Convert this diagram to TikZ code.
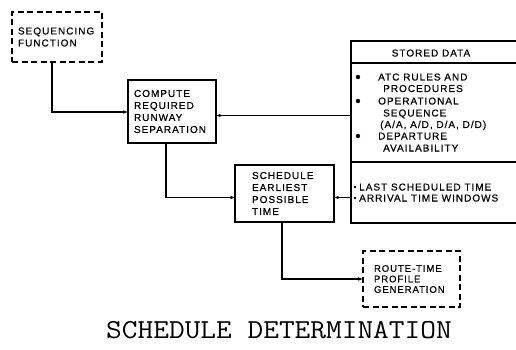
\documentclass[tikz,border=0pt]{standalone}
\usepackage{fontspec}
\setmainfont{Liberation Sans}[LetterSpace=10, FakeBold=0.6]
\usetikzlibrary{arrows.meta}
\begin{document}
\begin{tikzpicture}[x=1pt,y=-1pt,
  box/.style={draw, line width=1.1pt, rectangle, inner ysep=0pt, align=left,
    font=\fontsize{10}{12}\selectfont},
  dbox/.style={box, dash pattern=on 6pt off 3.5pt},
  arr/.style={line width=1.1pt, -{Stealth[length=4.5pt,width=3.5pt]}},
  ln/.style={line width=1.1pt},
  txt/.style={inner sep=0pt, anchor=west, text height=7pt, text depth=0pt,
    font=\fontsize{10}{12}\selectfont},
  bigdot/.style={ellipse, fill, inner sep=0pt, minimum width=5pt, minimum height=4pt, rotate=20},
  smalldot/.style={circle, fill, inner sep=0pt, minimum size=2.8pt}]
\useasboundingbox (0,0) rectangle (516,350);

% boxes
\node[dbox, minimum height=50pt, inner xsep=6pt, text width=78pt] (seq) at (57,37) {SEQUENCING\\FUNCTION};
\node[box, minimum height=63pt, inner xsep=6pt, text width=76pt] (compute) at (172,111.5) {COMPUTE\\REQUIRED\\RUNWAY\\SEPARATION};
\node[box, minimum height=57pt, inner xsep=17pt, text width=65pt] (sched) at (284.5,193.5) {SCHEDULE\\EARLIEST\\POSSIBLE\\TIME};
\node[dbox, minimum height=56pt, inner xsep=11pt, text width=75pt,
  font=\fontsize{9.5}{10.5}\selectfont] (route) at (411.5,279) {ROUTE-TIME\\PROFILE\\GENERATION};

% stored data
\node[draw, line width=1.1pt, minimum width=174pt, minimum height=182pt, inner sep=0pt] (stored) at (438,132) {};
\coordinate (h1) at (0,63);
\coordinate (h2) at (0,162);
\draw[ln] (stored.west |- h1) -- (stored.east |- h1);
\draw[ln] (stored.west |- h2) -- (stored.east |- h2);
\node[txt, anchor=center] (sdt) at (431,53) {STORED DATA};

\node[circle, fill, inner sep=0pt, minimum size=4.4pt] (b1) at (358,77) {};
\node[circle, fill, inner sep=0pt, minimum size=4.4pt] (b2) at (358,101) {};
\node[circle, fill, inner sep=0pt, minimum size=4.4pt] (b3) at (358,136) {};
\node[txt] (t1) at (378,77) {ATC RULES AND};
\node[txt] (t2) at (383,88.5) {PROCEDURES};
\node[txt] (t3) at (378,101) {OPERATIONAL};
\node[txt] (t4) at (383,113) {SEQUENCE};
\node[txt] (t5) at (380,124.5) {(A/A, A/D, D/A, D/D)};
\node[txt] (t6) at (378,136) {DEPARTURE};
\node[txt] (t7) at (383,148) {AVAILABILITY};

\node[smalldot] (b4) at (355,187) {};
\node[smalldot] (b5) at (355,198) {};
\node[txt] (t8) at (359,187) {LAST SCHEDULED TIME};
\node[txt] (t9) at (359,198) {ARRIVAL TIME WINDOWS};

% title
\node[inner sep=0pt, font=\ttfamily\fontsize{30.5}{32}\selectfont,
  yscale=0.9, transform shape] (title) at (279,330) {SCHEDULE DETERMINATION};

% connectors
\coordinate (y1) at (0,112);
\coordinate (y2) at (0,115.5);
\coordinate (y3) at (0,197.5);
\coordinate (x1) at (52,0);
\coordinate (x2) at (166,0);
\coordinate (x3) at (282,0);
\draw[arr] (seq.south -| x1) |- (compute.west |- y1);
\draw[arr] (stored.west |- y2) -- (compute.east |- y2);
\draw[arr] (compute.south -| x2) |- (sched.west |- y3);
\draw[arr] (stored.west |- y3) -- (sched.east |- y3);
\draw[arr] (sched.south -| x3) |- (route.west);
\end{tikzpicture}
\end{document}
